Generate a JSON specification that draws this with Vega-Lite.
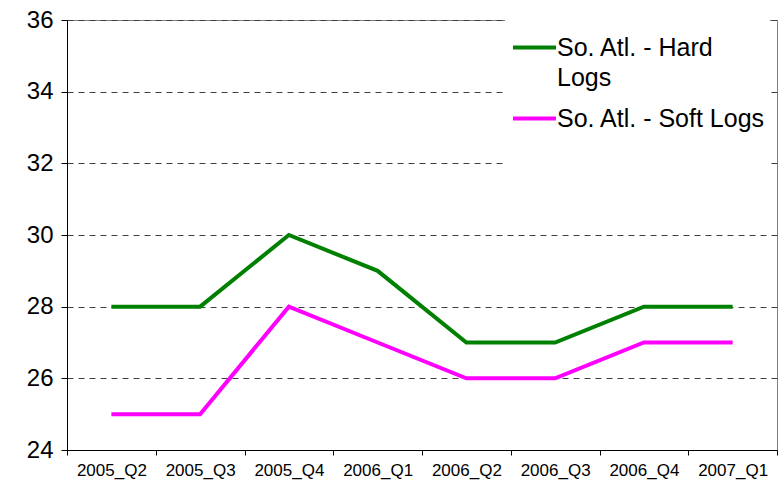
{
  "$schema": "https://vega.github.io/schema/vega-lite/v6.json",
  "autosize": "none",
  "width": 710,
  "height": 430,
  "padding": {"left": 67, "top": 20, "right": 4, "bottom": 36},
  "background": "white",
  "config": {
    "font": "Liberation Sans",
    "view": {"stroke": "#808080", "strokeWidth": 1}
  },
  "data": {
    "values": [
      {"q": "2005_Q2", "s": "So. Atl. - Hard Logs", "v": 28},
      {"q": "2005_Q3", "s": "So. Atl. - Hard Logs", "v": 28},
      {"q": "2005_Q4", "s": "So. Atl. - Hard Logs", "v": 30},
      {"q": "2006_Q1", "s": "So. Atl. - Hard Logs", "v": 29},
      {"q": "2006_Q2", "s": "So. Atl. - Hard Logs", "v": 27},
      {"q": "2006_Q3", "s": "So. Atl. - Hard Logs", "v": 27},
      {"q": "2006_Q4", "s": "So. Atl. - Hard Logs", "v": 28},
      {"q": "2007_Q1", "s": "So. Atl. - Hard Logs", "v": 28},
      {"q": "2005_Q2", "s": "So. Atl. - Soft Logs", "v": 25},
      {"q": "2005_Q3", "s": "So. Atl. - Soft Logs", "v": 25},
      {"q": "2005_Q4", "s": "So. Atl. - Soft Logs", "v": 28},
      {"q": "2006_Q1", "s": "So. Atl. - Soft Logs", "v": 27},
      {"q": "2006_Q2", "s": "So. Atl. - Soft Logs", "v": 26},
      {"q": "2006_Q3", "s": "So. Atl. - Soft Logs", "v": 26},
      {"q": "2006_Q4", "s": "So. Atl. - Soft Logs", "v": 27},
      {"q": "2007_Q1", "s": "So. Atl. - Soft Logs", "v": 27}
    ]
  },
  "mark": {"type": "line", "strokeWidth": 4},
  "encoding": {
    "x": {
      "field": "q",
      "type": "ordinal",
      "sort": null,
      "scale": {"type": "band", "paddingInner": 0, "paddingOuter": 0},
      "bandPosition": 0.5,
      "axis": {
        "title": null,
        "labelAngle": 0,
        "labelFontSize": 17,
        "labelColor": "black",
        "labelPadding": 7,
        "tickBand": "extent",
        "tickSize": 5,
        "tickColor": "black",
        "domainColor": "black",
        "grid": false
      }
    },
    "y": {
      "field": "v",
      "type": "quantitative",
      "scale": {"domain": [24, 36], "nice": false, "zero": false},
      "axis": {
        "title": null,
        "values": [24, 26, 28, 30, 32, 34, 36],
        "labelFontSize": 24,
        "labelColor": "black",
        "labelPadding": 8,
        "tickSize": 6,
        "tickColor": "black",
        "domainColor": "black",
        "grid": true,
        "gridColor": "#404040",
        "gridDash": [6, 5],
        "gridWidth": 1
      }
    },
    "color": {
      "field": "s",
      "type": "nominal",
      "scale": {"domain": ["So. Atl. - Hard Logs", "So. Atl. - Soft Logs"], "range": ["#008000", "#FF00FF"]},
      "legend": {
        "title": " ",
        "titleOrient": "bottom",
        "titleFontSize": 10,
        "titlePadding": 22,
        "orient": "none",
        "legendX": 438,
        "legendY": 0,
        "fillColor": "white",
        "padding": 4,
        "offset": 0,
        "symbolType": "stroke",
        "symbolSize": 1849,
        "symbolStrokeWidth": 4,
        "labelFontSize": 25,
        "labelColor": "black",
        "labelLimit": 400,
        "rowPadding": 4,
        "labelOffset": 1,
        "labelExpr": "datum.label == 'So. Atl. - Hard Logs' ? ['So. Atl. - Hard', 'Logs'] : datum.label",
        "encode": {
          "labels": {"update": {"lineHeight": {"value": 30}}},
          "symbols": {"update": {"xc": {"value": 25.5}}}
        }
      }
    }
  }
}
